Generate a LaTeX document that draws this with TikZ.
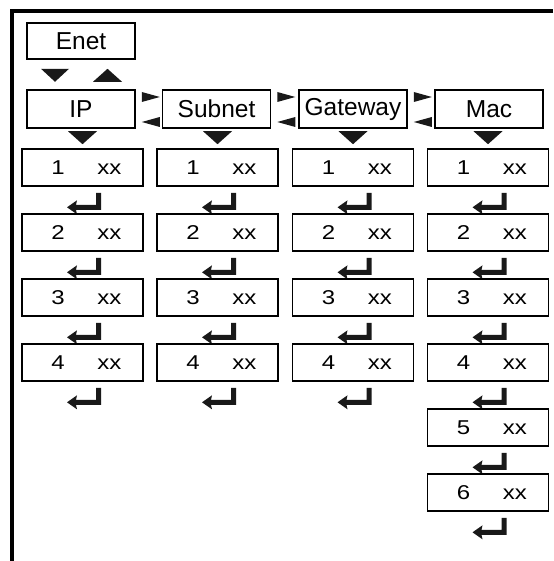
\documentclass[tikz,border=0pt]{standalone}
\usepackage{fontspec}
\setmainfont{Liberation Sans}
\newfontfamily\rowfont[FakeStretch=1.2]{Liberation Sans}
\usetikzlibrary{calc}
\begin{document}
\begin{tikzpicture}[x=1pt,y=-1pt,
  hdr/.style={draw, line width=1.6pt, minimum width=108pt, minimum height=38pt, inner sep=0pt, font=\fontsize{24.5}{28}\selectfont},
  rowbox/.style={draw, line width=1.6pt, minimum width=121pt, minimum height=37pt, inner sep=0pt, font=\rowfont\fontsize{20}{24}\selectfont},
  trifill/.style={fill=black!90},
  retarrow/.pic={\fill[black!90] (-15.5,20.5) -- (-5.5,13.5) -- (-6.5,18) -- (13.5,18) -- (13.5,6) -- (18.5,6) -- (18.5,23) -- (-6.5,23) -- (-5.5,27.5) -- cycle;}]
\useasboundingbox (0,0) rectangle (553,561);
\draw[line width=4pt, line join=miter] (553,11) -- (12,11) -- (12,561);
\node[hdr, minimum height=36pt] (enet) at (81,41) {Enet};
\node[hdr] (ip) at (81,109) {IP};
\node[hdr] (subnet) at (216.5,109) {Subnet};
\node[hdr] (gateway) at (353,109) {Gateway};
\node[hdr] (mac) at (489,109) {Mac};
\fill[trifill] ($(enet.south)+(-40,9)$) -- ++(28,0) -- ++(-14,13) -- cycle;
\fill[trifill] ($(enet.south)+(12,22)$) -- ++(29,0) -- ++(-14.5,-13) -- cycle;
\foreach \a in {ip, subnet, gateway} {
  \fill[trifill] ($(\a.east)+(6,-17)$) -- ++(0,10) -- ++(18,-5) -- cycle;
  \fill[trifill] ($(\a.east)+(6,13)$) -- ++(18,-5) -- ++(0,10) -- cycle;
}
\foreach \c/\x/\n in {1/82.5/4, 2/217.5/4, 3/353/4, 4/488/6} {
  \foreach \r in {1,...,\n} {
    \node[rowbox] (c\c r\r) at (\x, {167.5+65*(\r-1)}) {\raisebox{-2.5pt}{\hspace{7.8pt}\r\hspace{32.8pt}xx}};
    \pic at (c\c r\r.south) {retarrow};
  }
  \fill[trifill] ($(c\c r1.north)+(-14.5,-17)$) -- ++(29,0) -- ++(-14.5,13) -- cycle;
}
\end{tikzpicture}
\end{document}
